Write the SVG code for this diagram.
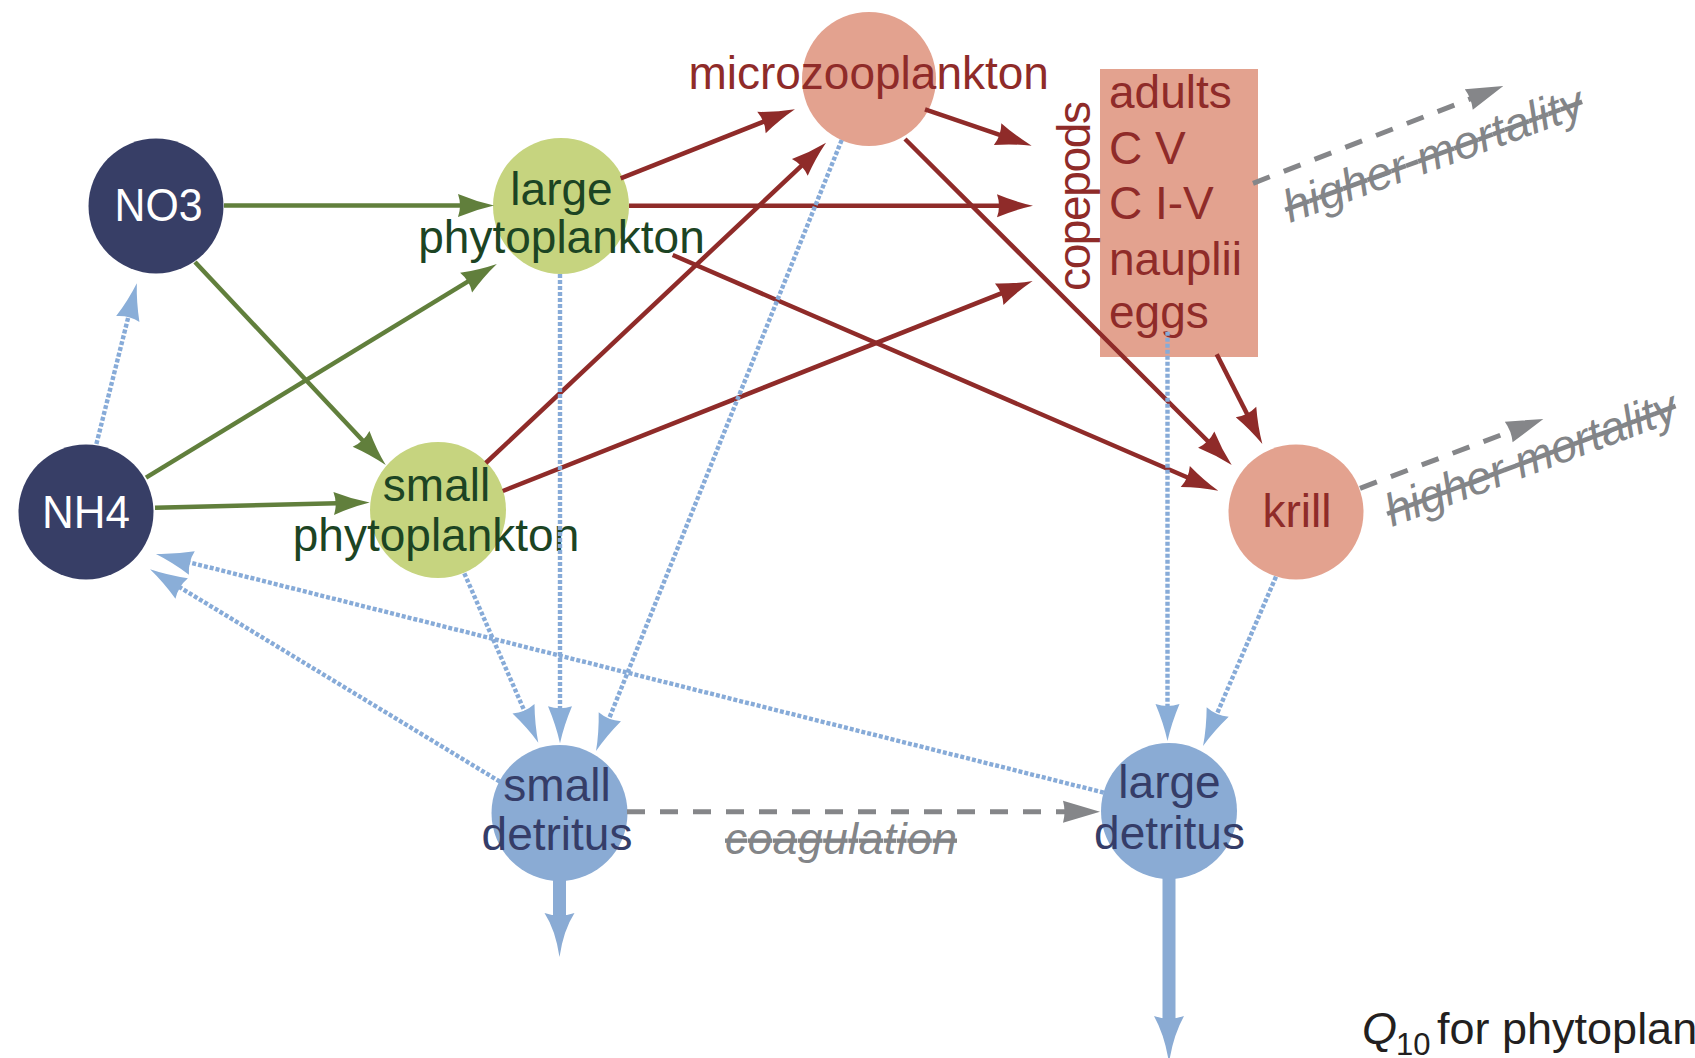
<svg xmlns="http://www.w3.org/2000/svg" width="1695" height="1058" viewBox="0 0 1695 1058">
<defs>
<style>
.lbl{font-family:"Liberation Sans","Noto Sans",Arial,sans-serif;font-size:46px;}
.mid{text-anchor:middle}
.w{fill:#ffffff}
.gt{fill:#1c4423}
.rt{fill:#8f2b29}
.bt{fill:#353d68}
.gray{font-family:"Liberation Sans","Noto Sans",Arial,sans-serif;fill:#838588;font-style:italic;font-size:44px;text-decoration:line-through}
.gray2{font-size:46px}
.navy{fill:#373e66}
.lime{fill:#c6d47f}
.salmon{fill:#e3a28f}
.det{fill:#8aabd4}
.green{stroke:#617f3c;stroke-width:4.5;fill:none;marker-end:url(#ah-green)}
.red{stroke:#8f2b29;stroke-width:4.5;fill:none;marker-end:url(#ah-red)}
.blue{stroke:#87abd8;stroke-width:4.4;stroke-dasharray:4 2;fill:none;marker-end:url(#ah-blue)}
.dash{stroke:#858689;stroke-width:5;stroke-dasharray:18 15;fill:none;marker-end:url(#ah-gray)}
.sink{stroke:#8aabd4;stroke-width:13;fill:none}
</style>
<marker id="ah-green" markerUnits="userSpaceOnUse" markerWidth="50" markerHeight="26" viewBox="0 0 50 26" refX="38" refY="13" orient="auto">
<path d="M50,13 Q32,9 14,1.5 Q18,13 14,24.5 Q32,17 50,13 Z" fill="#617f3c"/>
</marker>
<marker id="ah-red" markerUnits="userSpaceOnUse" markerWidth="50" markerHeight="26" viewBox="0 0 50 26" refX="38" refY="13" orient="auto">
<path d="M50,13 Q32,9 14,1.5 Q18,13 14,24.5 Q32,17 50,13 Z" fill="#8f2b29"/>
</marker>
<marker id="ah-blue" markerUnits="userSpaceOnUse" markerWidth="50" markerHeight="26" viewBox="0 0 50 26" refX="38" refY="13" orient="auto">
<path d="M50,13 Q32,9 13,1 Q17,13 13,25 Q32,17 50,13 Z" fill="#8aaed8"/>
</marker>
<marker id="ah-gray" markerUnits="userSpaceOnUse" markerWidth="50" markerHeight="26" viewBox="0 0 50 26" refX="38" refY="13" orient="auto">
<path d="M50,13 L13,2 Q16,13 13,24 Z" fill="#858689"/>
</marker>
</defs>
<rect width="1695" height="1058" fill="#ffffff"/>

<g id="nodes">
<g id="NO3">
<circle class="navy" cx="156" cy="206" r="67.5"/>
<text class="lbl w mid" x="158.5" y="221" textLength="88" lengthAdjust="spacingAndGlyphs">NO3</text>
</g>
<g id="NH4">
<circle class="navy" cx="86" cy="512" r="67.5"/>
<text class="lbl w mid" x="86" y="528" textLength="88" lengthAdjust="spacingAndGlyphs">NH4</text>
</g>
<g id="large-phytoplankton">
<circle class="lime" cx="561" cy="206" r="68"/>
<text class="lbl gt mid" x="561.5" y="204.7">large</text>
<text class="lbl gt mid" x="561.5" y="252.6">phytoplankton</text>
</g>
<g id="small-phytoplankton">
<circle class="lime" cx="438" cy="510" r="68"/>
<text class="lbl gt mid" x="436.5" y="501.3">small</text>
<text class="lbl gt mid" x="436" y="551">phytoplankton</text>
</g>
<g id="microzooplankton">
<circle class="salmon" cx="869" cy="79" r="67"/>
<text class="lbl rt mid" x="868.7" y="89.3">microzooplankton</text>
</g>
<g id="copepods">
<rect class="salmon" x="1100" y="69" width="158" height="288"/>
<text class="lbl rt mid" transform="translate(1090,196) rotate(-90)" x="0" y="0" textLength="190">copepods</text>
<text class="lbl rt" x="1109" y="108.3">adults</text>
<text class="lbl rt" x="1109" y="163.8">C V</text>
<text class="lbl rt" x="1109" y="218.9">C I-V</text>
<text class="lbl rt" x="1109" y="274.8">nauplii</text>
<text class="lbl rt" x="1109" y="328.4">eggs</text>
</g>
<g id="krill">
<circle class="salmon" cx="1296" cy="512" r="67.5"/>
<text class="lbl rt mid" x="1297" y="527.4">krill</text>
</g>
<g id="small-detritus">
<circle class="det" cx="559.5" cy="813" r="68"/>
<text class="lbl bt mid" x="557" y="801">small</text>
<text class="lbl bt mid" x="557" y="849.7">detritus</text>
</g>
<g id="large-detritus">
<circle class="det" cx="1169" cy="811" r="68"/>
<text class="lbl bt mid" x="1169.5" y="798">large</text>
<text class="lbl bt mid" x="1169.5" y="848.6">detritus</text>
</g>
</g>

<g id="connectors">
<g id="uptake">
<line class="green" x1="224" y1="205.5" x2="482" y2="205.5"/>
<line class="green" x1="195" y1="262" x2="377.5" y2="456.3"/>
<line class="green" x1="146" y1="477.6" x2="486.6" y2="270.2"/>
<line class="green" x1="155" y1="507.8" x2="357.7" y2="502.8"/>
</g>
<g id="grazing">
<line class="red" x1="620.7" y1="178.3" x2="783.8" y2="113.7"/>
<line class="red" x1="485.8" y1="463" x2="817.3" y2="150.9"/>
<line class="red" x1="629" y1="205.7" x2="1021" y2="205.7"/>
<line class="red" x1="925" y1="109.3" x2="1020.3" y2="141.8"/>
<line class="red" x1="502.8" y1="491" x2="1021.5" y2="285.4"/>
<line class="red" x1="905" y1="139" x2="1223.2" y2="456.5"/>
<line class="red" x1="672.7" y1="255" x2="1207.3" y2="486"/>
<line class="red" x1="1216.7" y1="354.3" x2="1256.9" y2="433.3"/>
</g>
<g id="recycling">
<line class="blue" x1="96.4" y1="444" x2="133.9" y2="294.8"/>
<line class="blue" x1="464.3" y1="573.3" x2="533.5" y2="731.7"/>
<line class="blue" x1="560" y1="274" x2="560" y2="731.3"/>
<line class="blue" x1="841.7" y1="140" x2="600.5" y2="739.9"/>
<line class="blue" x1="500" y1="781.7" x2="160.3" y2="575.5"/>
<line class="blue" x1="1103.8" y1="792.6" x2="167.6" y2="556.9"/>
<line class="blue" x1="1167.5" y1="331.7" x2="1167.5" y2="729"/>
<line class="blue" x1="1276" y1="576.6" x2="1207.8" y2="735"/>
</g>
<g id="sinking">
<line class="sink" x1="559.5" y1="880" x2="559.5" y2="918"/>
<path d="M559.5,957 Q555.5,930 544.5,913 Q559.5,918 574.5,913 Q563.5,930 559.5,957 Z" fill="#8aabd4"/>
<line class="sink" x1="1169" y1="878" x2="1169" y2="1020"/>
<path d="M1169,1063 Q1165,1036 1154,1016 Q1169,1021 1184,1016 Q1173,1036 1169,1063 Z" fill="#8aabd4"/>
</g>
<g id="modified">
<line class="dash" x1="627" y1="811.7" x2="1088" y2="811.7"/>
<line class="dash" x1="1253" y1="183.3" x2="1492.1" y2="90.4"/>
<line class="dash" x1="1360" y1="488.3" x2="1532.1" y2="423.2"/>
<text class="gray" x="725" y="854" textLength="232">coagulation</text>
<text class="gray gray2" transform="translate(1290,223) rotate(-20)" x="0" y="0" textLength="316">higher mortality</text>
<text class="gray gray2" transform="translate(1392,527) rotate(-20.5)" x="0" y="0" textLength="308">higher mortality</text>
</g>
</g>

<g id="caption">
<text class="lbl" style="fill:#231f20;font-size:45px" x="1362" y="1044"><tspan font-style="italic">Q</tspan><tspan x="1396" y="1055" font-size="31">10</tspan><tspan x="1437" y="1044">for phytoplankton</tspan></text>
</g>
</svg>
